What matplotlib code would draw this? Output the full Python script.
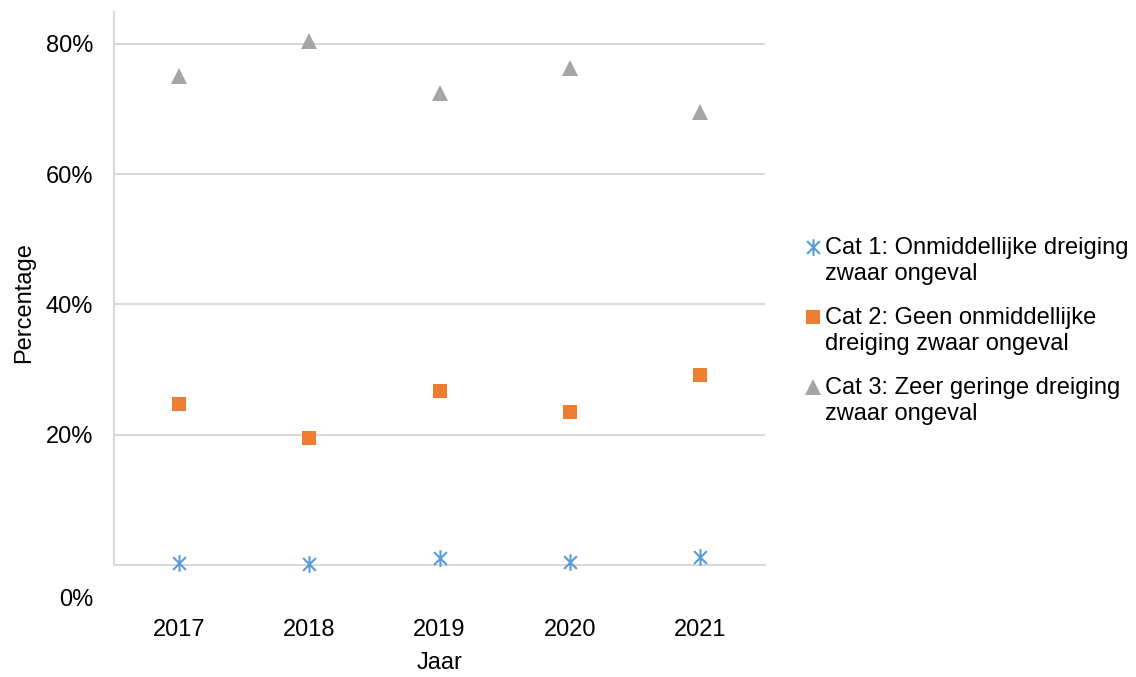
import matplotlib
matplotlib.use("Agg")
import matplotlib.pyplot as plt
from matplotlib.path import Path
from matplotlib.lines import Line2D

plt.rcParams['font.family'] = ['Liberation Sans', 'DejaVu Sans']

years = ["2017", "2018", "2019", "2020", "2021"]
cat1 = [0.003, 0.0015, 0.011, 0.005, 0.012]
cat2 = [0.247, 0.195, 0.267, 0.235, 0.292]
cat3 = [0.751, 0.804, 0.724, 0.763, 0.695]
labels = ["Cat 1: Onmiddellijke dreiging\nzwaar ongeval",
          "Cat 2: Geen onmiddellijke\ndreiging zwaar ongeval",
          "Cat 3: Zeer geringe dreiging\nzwaar ongeval"]
ytick_vals = [0.2, 0.4, 0.6, 0.8]

FS = 17

# asterisk marker: X plus vertical stroke
star = Path([(-1, -1), (1, 1), (-1, 1), (1, -1), (0, -1.3), (0, 1.3)],
            [Path.MOVETO, Path.LINETO, Path.MOVETO, Path.LINETO, Path.MOVETO, Path.LINETO])

styles = [
    dict(marker=star, color="#5b9bd5", ms=12, mew=1.5, fillstyle="none"),
    dict(marker="s", color="#ed7d31", ms=10.5, mew=0),
    dict(marker="^", color="#a5a5a5", ms=12, mew=0),
]

fig = plt.figure(figsize=(11.36, 6.77), dpi=100)
ax = fig.add_axes([114 / 1136, 112 / 677, 651 / 1136, 553 / 677])

x = range(len(years))
for vals, st in zip([cat1, cat2, cat3], styles):
    ax.plot(x, vals, linestyle="none", markeredgecolor=st["color"], clip_on=False,
            zorder=3, **st)

ax.set_xlim(-0.5, 4.5)
ax.set_ylim(0, 0.849)
ax.set_yticks(ytick_vals)
ax.set_yticklabels([f"{int(v * 100)}%" for v in ytick_vals])
ax.set_xticks(list(x))
ax.set_xticklabels(years)
ax.tick_params(axis="both", length=0, labelsize=FS)
ax.tick_params(axis="y", pad=15)
ax.tick_params(axis="x", pad=39)
ax.grid(axis="y", color="#d9d9d9", linewidth=1.5)
ax.set_axisbelow(True)
for s in ["top", "right"]:
    ax.spines[s].set_visible(False)
for s in ["left", "bottom"]:
    ax.spines[s].set_color("#d9d9d9")
    ax.spines[s].set_linewidth(1.5)

# 0% label sits below the axis line
fig.text(93 / 1136, 1 - 600 / 677, "0%", ha="right", va="center", fontsize=FS)

fig.text(24 / 1136, 1 - 303 / 677, "Percentage", rotation=90, ha="center", va="center", fontsize=FS)
fig.text(440 / 1136, 1 - 663 / 677, "Jaar", ha="center", va="center", fontsize=FS)

# legend drawn by hand so markers line up with the first text line
for i, (lab, st) in enumerate(zip(labels, styles)):
    y0 = 247 + i * 70
    fig.add_artist(Line2D([813 / 1136], [1 - y0 / 677], transform=fig.transFigure,
                          linestyle="none", markeredgecolor=st["color"], **st))
    fig.text(825 / 1136, 1 - (y0 - 10) / 677, lab, ha="left", va="top", fontsize=FS,
             linespacing=1.25)

fig.savefig("out.png", dpi=100)
